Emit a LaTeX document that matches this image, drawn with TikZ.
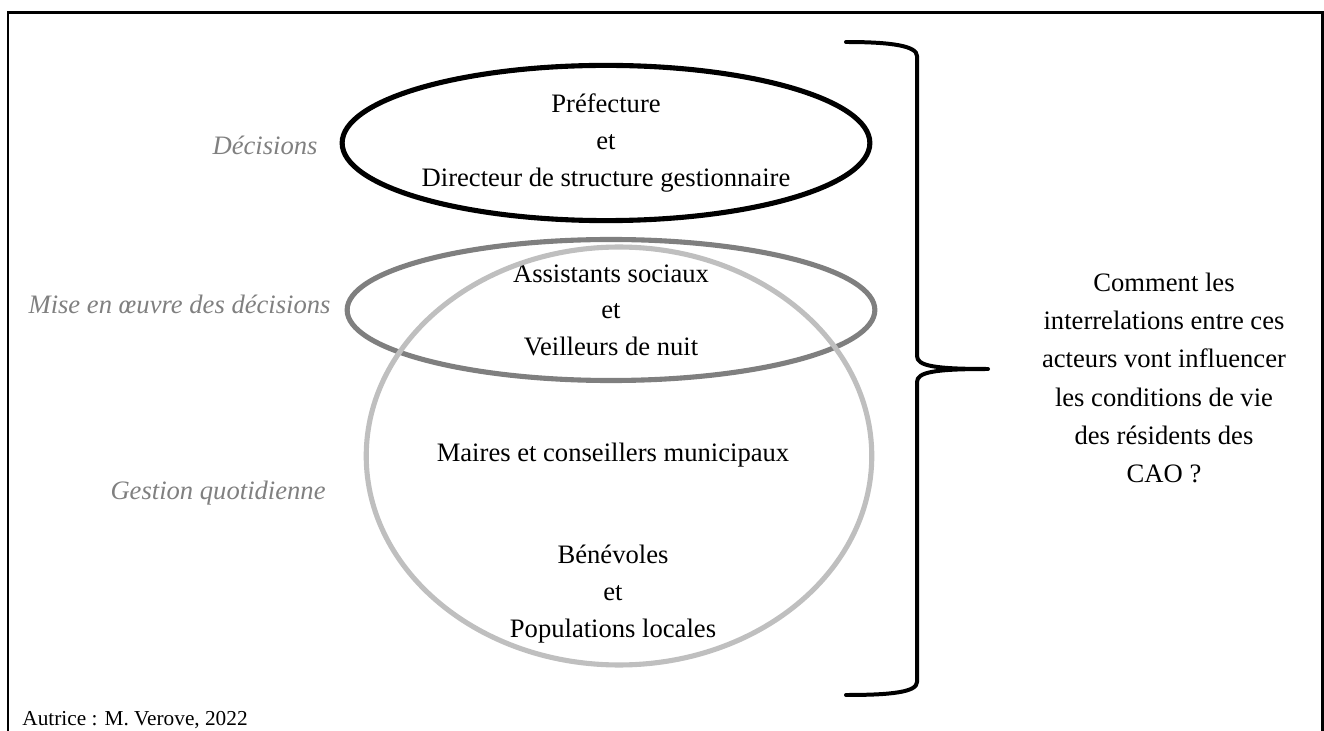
\documentclass[tikz,border=0pt]{standalone}
\usepackage{fontspec}
\setmainfont{Liberation Serif}
\usetikzlibrary{shapes.geometric}
\definecolor{MidGray}{RGB}{127,127,127}
\definecolor{PaleGray}{RGB}{191,191,191}
\definecolor{LabelGray}{RGB}{128,128,128}
\tikzset{
  actor/.style={font=\fontsize{12}{16.5}\selectfont,align=center,inner sep=0pt},
  level/.style={font=\fontsize{12}{14}\selectfont\itshape,text=LabelGray,
    anchor=base east,inner sep=0pt},
  decision/.style={ellipse,draw=black,line width=2.3pt,minimum width=238pt,
    minimum height=70pt,actor},
  execution/.style={ellipse,draw=MidGray,line width=2.3pt,minimum width=238pt,
    minimum height=63.6pt,actor},
  daily/.style={ellipse,draw=PaleGray,line width=2.3pt,minimum width=228pt,
    minimum height=188.5pt},
  question/.style={font=\fontsize{12}{17.3}\selectfont,align=center,inner sep=0pt},
  bracket/.style={line width=1.8pt,line cap=round,line join=round}
}

\begin{document}
\begin{tikzpicture}[x=0.451pt,y=-0.451pt]
  \useasboundingbox (0,0) rectangle (1324,731);
  % cadre
  \draw[line width=1.35pt] (8,760) -- (8,13) -- (1322,13) -- (1322,760);

  % les trois cercles d'acteurs
  \node[execution] (mise) at (611,310) {Assistants sociaux\\et\\Veilleurs de nuit};
  \node[daily] (gestion) at (619,456) {};
  \node[decision] (prefecture) at (606,143) {Préfecture\\et\\Directeur de structure gestionnaire};
  \node[actor,anchor=base] (maires) at (613,461) {Maires et conseillers municipaux};
  \node[actor] (benevoles) at (613,594) {Bénévoles\\et\\Populations locales};

  % niveaux
  \node[level] (lvl1) at (318,155) {Décisions};
  \node[level] (lvl2) at (331,314) {Mise en œuvre des décisions};
  \node[level] (lvl3) at (326,499) {Gestion quotidienne};

  % accolade
  \draw[bracket] (846,42) .. controls (892,42) and (917,46) .. (917,56)
    -- (917,356) .. controls (917,366) and (935,369) .. (988,369)
    .. controls (935,369) and (917,372) .. (917,382)
    -- (917,682) .. controls (917,692) and (892,695) .. (846,695);

  \node[question] (question) at (1164,378) {Comment les\\interrelations entre ces\\acteurs vont influencer\\les conditions de vie\\des résidents des\\CAO ?};

  \node[anchor=base west,inner sep=0pt,font=\fontsize{9.6}{11}\selectfont] (autrice) at (22,725) {Autrice : M. Verove, 2022};
\end{tikzpicture}
\end{document}
